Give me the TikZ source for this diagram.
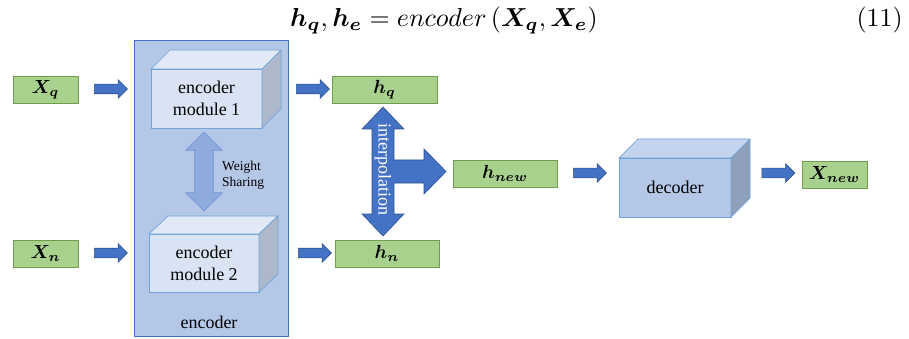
\documentclass[tikz,border=0pt]{standalone}
\usepackage{fontspec}
\usepackage{amsmath,bm,graphicx}
\usetikzlibrary{shapes.arrows,calc}
\newfontfamily\tnr{Liberation Serif}
\definecolor{gfill}{HTML}{A9D18E}
\definecolor{gdraw}{HTML}{6E9E4C}
\definecolor{encfill}{HTML}{B4C7E7}
\definecolor{encdraw}{HTML}{4472C4}
\definecolor{modfront}{HTML}{DAE3F3}
\definecolor{modtop}{HTML}{E1E9F6}
\definecolor{modside}{HTML}{ADB9CA}
\definecolor{moddraw}{HTML}{6FA3DA}
\definecolor{decfront}{HTML}{B4C7E7}
\definecolor{dectop}{HTML}{C5D4EE}
\definecolor{decside}{HTML}{8FA1BA}
\definecolor{afill}{HTML}{4472C4}
\definecolor{adraw}{HTML}{2F528F}
\definecolor{wsfill}{HTML}{8FAADC}
\definecolor{wsdraw}{HTML}{6F93CF}
\newcommand{\lbltext}[1]{\scalebox{1.9}{$#1$}}
\begin{document}
\begin{tikzpicture}[x=1pt,y=-1pt,
  lbl/.style={draw=gdraw, fill=gfill, line width=0.8pt, minimum height=27pt, inner sep=0pt},
  blk/.style={single arrow, draw=adraw, fill=afill, line width=0.6pt, minimum height=33pt,
    text height=9pt, text depth=0pt, text width=0pt, single arrow head extend=4.5pt, inner sep=0pt},
  front/.style={draw=moddraw, line width=0.7pt, outer sep=0pt, inner sep=0pt, align=center,
    font=\tnr\fontsize{18}{22}\selectfont},
  face/.style={draw=moddraw, line width=0.7pt, line join=round},
  txt/.style={inner sep=0pt, font=\tnr\fontsize{18}{22}\selectfont}
]
\useasboundingbox (0,0) rectangle (909,339);

% equation
\node[anchor=base, inner sep=0pt] (eq) at (444,26.5)
  {\scalebox{2.6}{$\bm{h_q}, \bm{h_e} = encoder\left(\bm{X_q}, \bm{X_e}\right)$}};
\node[anchor=base east, inner sep=0pt] (eqno) at (903,26.5) {\scalebox{2.6}{(11)}};

% encoder container
\node[draw=encdraw, fill=encfill, line width=0.8pt, minimum width=154pt, minimum height=296pt,
  inner sep=0pt] (enc) at (211,188) {};
\node[txt] (enclbl) at (209,322) {encoder};

% module 1
\node[front, fill=modfront, minimum width=111pt, minimum height=59pt] (m1) at (206.5,98.5)
  {encoder\\module 1};
\draw[face, fill=modtop] (m1.north west) -- ++(19,-19) -- ($(m1.north east)+(19,-19)$) -- (m1.north east) -- cycle;
\draw[face, fill=modside] (m1.north east) -- ++(19,-19) -- ($(m1.south east)+(19,-19)$) -- (m1.south east) -- cycle;

% module 2
\node[front, fill=modfront, minimum width=110pt, minimum height=58pt] (m2) at (204,263)
  {encoder\\module 2};
\draw[face, fill=modtop] (m2.north west) -- ++(19,-18) -- ($(m2.north east)+(19,-18)$) -- (m2.north east) -- cycle;
\draw[face, fill=modside] (m2.north east) -- ++(19,-18) -- ($(m2.south east)+(19,-18)$) -- (m2.south east) -- cycle;

% weight sharing arrow
\node[double arrow, draw=wsdraw, fill=wsfill, line width=0.6pt, minimum height=79pt,
  text height=18pt, text depth=0pt, text width=0pt, double arrow head extend=9pt, inner sep=0pt,
  rotate=90] (ws) at (204,171.5) {};
\node[anchor=west, align=left, inner sep=0pt, font=\tnr\fontsize{13.5}{16}\selectfont] (wstxt) at (222,175)
  {Weight\\Sharing};

% decoder
\node[front, fill=decfront, minimum width=112pt, minimum height=59pt] (dec) at (675,187.5) {decoder};
\draw[face, fill=dectop] (dec.north west) -- ++(19,-19) -- ($(dec.north east)+(19,-19)$) -- (dec.north east) -- cycle;
\draw[face, fill=decside] (dec.north east) -- ++(19,-19) -- ($(dec.south east)+(19,-19)$) -- (dec.south east) -- cycle;

% green labels
\node[lbl, minimum width=65pt] (xq) at (45.5,89.5) {\lbltext{\bm{X_q}}};
\node[lbl, minimum width=65pt] (xn) at (45.5,253.5) {\lbltext{\bm{X_n}}};
\node[lbl, minimum width=105pt] (hq) at (384.5,89.5) {\lbltext{\bm{h_q}}};
\node[lbl, minimum width=104pt] (hn) at (387,253.5) {\lbltext{\bm{h_n}}};
\node[lbl, minimum width=104pt] (hnew) at (505,173.5) {\lbltext{\bm{h_{new}}}};
\node[lbl, minimum width=65pt] (xnew) at (834.5,174.5) {\lbltext{\bm{X_{new}}}};

% block arrows
\node[blk] (a1) at (108.5,89) {};
\node[blk] (a2) at (108.5,253) {};
\node[blk] (a3) at (310.5,89) {};
\node[blk] (a4) at (312.5,253) {};
\node[blk] (a5) at (587.5,173) {};
\node[blk] (a6) at (776,173) {};

% interpolation T-arrow
\draw[draw=adraw, fill=afill, line width=0.6pt, line join=miter]
  (383,107) -- (404,129) -- (394,129) -- (394,160) -- (424,160) -- (424,149) -- (446,171.5)
  -- (424,194) -- (424,183) -- (394,183) -- (394,214) -- (404,214) -- (383,236)
  -- (362,214) -- (372,214) -- (372,129) -- (362,129) -- cycle;
\node[rotate=-90, text=white, inner sep=0pt, font=\tnr\fontsize{18}{22}\selectfont] (interp) at (383,169.5)
  {interpolation};
\end{tikzpicture}
\end{document}
